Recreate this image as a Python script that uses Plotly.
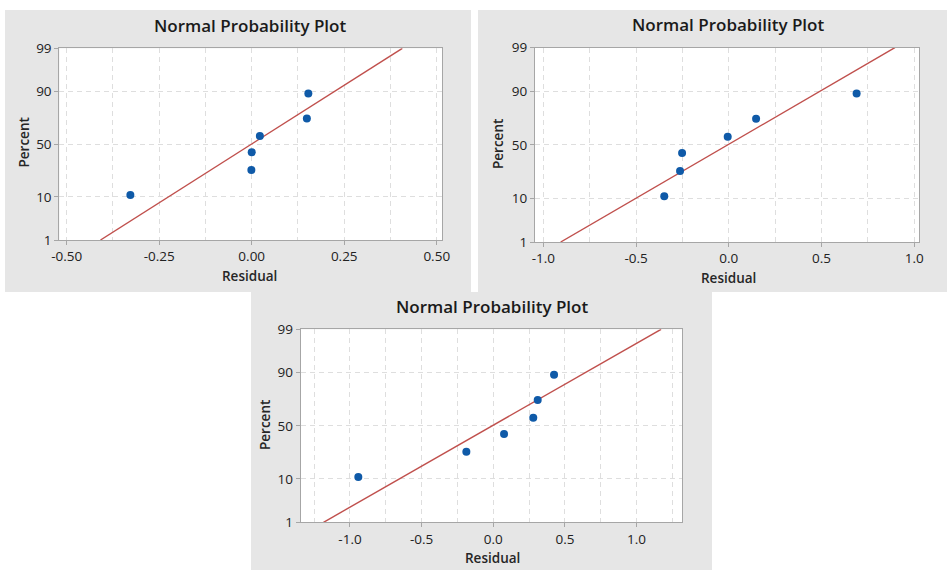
import plotly.graph_objects as go
from statistics import NormalDist, mean, stdev

ND = NormalDist()

# ---- data ----
percent = [10.9, 26.6, 42.2, 57.8, 73.4, 89.1]
resid_1 = [-0.328, -0.001, 0.000, 0.022, 0.149, 0.153]
resid_2 = [-0.348, -0.263, -0.252, -0.006, 0.147, 0.689]
resid_3 = [-0.942, -0.188, 0.075, 0.279, 0.310, 0.424]

y_tickvals = [1, 10, 50, 90, 99]
y_ticktext = ["1", "10", "50", "90", "99"]
x_tick_1 = [-0.50, -0.25, 0.00, 0.25, 0.50]
x_text_1 = ["-0.50", "-0.25", "0.00", "0.25", "0.50"]
x_tick_2 = [-1.0, -0.5, 0.0, 0.5, 1.0]
x_text_2 = ["-1.0", "-0.5", "0.0", "0.5", "1.0"]
x_tick_3 = [-1.0, -0.5, 0.0, 0.5, 1.0]
x_text_3 = ["-1.0", "-0.5", "0.0", "0.5", "1.0"]
fit_percent = [1, 99]

W, H = 947, 570
FONT = "Open Sans"
PANEL = "#e6e6e6"
GRID = "#dedede"
GRIDDASH = "5px,4px"
FRAME = "#a6a6a6"
BLUE = "#0f5aa8"
RED = "#c0504d"
TICKCOL = "#222222"


def z(p):
    return ND.inv_cdf(p / 100.0)


# panel boxes (pixels) and plot areas (pixels)
panels = [
    dict(box=(5, 10, 471, 292), plot=(59.3, 48.3, 442.3, 240.0), xr=(-0.52, 0.515),
         res=resid_1, xt=x_tick_1, xtt=x_text_1, minor=0.125),
    dict(box=(478, 10, 947, 292), plot=(535.0, 47.7, 919.3, 242.0), xr=(-1.045, 1.027),
         res=resid_2, xt=x_tick_2, xtt=x_text_2, minor=0.25),
    dict(box=(251, 292, 712, 570), plot=(300.7, 329.3, 682.3, 522.3), xr=(-1.344, 1.319),
         res=resid_3, xt=x_tick_3, xtt=x_text_3, minor=0.25),
]

fig = go.Figure()
shapes = []
annotations = []

for i, pn in enumerate(panels, start=1):
    xa = "x" if i == 1 else f"x{i}"
    ya = "y" if i == 1 else f"y{i}"
    xk = "xaxis" if i == 1 else f"xaxis{i}"
    yk = "yaxis" if i == 1 else f"yaxis{i}"
    res = sorted(pn["res"])
    m, s = mean(res), stdev(res)
    # fitted line
    fig.add_trace(go.Scatter(
        x=[m + s * z(p) for p in fit_percent], y=[z(p) for p in fit_percent],
        mode="lines", line=dict(color=RED, width=1.4), xaxis=xa, yaxis=ya,
        showlegend=False, hoverinfo="skip"))
    fig.add_trace(go.Scatter(
        x=res, y=[z(p) for p in percent], mode="markers",
        marker=dict(color=BLUE, size=8), xaxis=xa, yaxis=ya, showlegend=False))

    x0, y0, x1, y1 = pn["plot"]
    fig.layout[xk] = dict(
        domain=[x0 / W, x1 / W], anchor=ya, range=list(pn["xr"]),
        tickvals=pn["xt"], ticktext=pn["xtt"],
        showline=True, mirror=True, linecolor=FRAME, linewidth=1,
        ticks="outside", ticklen=4, tickcolor=FRAME,
        showgrid=True, gridcolor=GRID, griddash=GRIDDASH, gridwidth=1,
        minor=dict(dtick=pn["minor"], tick0=0, showgrid=True, gridcolor=GRID,
                   griddash=GRIDDASH, gridwidth=1, ticks=""),
        zeroline=False, tickfont=dict(family=FONT, size=13.5, color=TICKCOL),
        fixedrange=True)
    fig.layout[yk] = dict(
        domain=[1 - y1 / H, 1 - y0 / H], anchor=xa, range=[z(1), z(99)],
        tickvals=[z(p) for p in y_tickvals], ticktext=y_ticktext,
        showline=True, mirror=True, linecolor=FRAME, linewidth=1,
        ticks="outside", ticklen=4, tickcolor=FRAME,
        showgrid=True, gridcolor=GRID, griddash=GRIDDASH, gridwidth=1,
        zeroline=False, tickfont=dict(family=FONT, size=13.5, color=TICKCOL),
        fixedrange=True)

    bx0, by0, bx1, by1 = pn["box"]
    shapes.append(dict(type="rect", xref="paper", yref="paper",
                       x0=bx0 / W, x1=bx1 / W, y0=1 - by1 / H, y1=1 - by0 / H,
                       fillcolor=PANEL, line=dict(width=0), layer="below"))
    shapes.append(dict(type="rect", xref="paper", yref="paper",
                       x0=x0 / W, x1=x1 / W, y0=1 - y1 / H, y1=1 - y0 / H,
                       fillcolor="white", line=dict(width=0), layer="below"))

title_pos = [(250, 25), (728, 24), (492, 306.5)]
xt_pos = [(250, 276), (728, 278), (492, 557.5)]
yt_pos = [(23.5, 143), (498, 144), (265, 425)]
for (tx, ty), (ax_, ay_), (px, py) in zip(title_pos, xt_pos, yt_pos):
    annotations.append(dict(text="Normal Probability Plot", x=tx / W, y=1 - ty / H,
                            xref="paper", yref="paper", showarrow=False,
                            xanchor="center", yanchor="middle",
                            font=dict(family=FONT, size=17, color="#1a1a1a", weight=600)))
    annotations.append(dict(text="Residual", x=ax_ / W, y=1 - ay_ / H,
                            xref="paper", yref="paper", showarrow=False,
                            xanchor="center", yanchor="middle",
                            font=dict(family=FONT, size=13.5, color="#262626", weight=600)))
    annotations.append(dict(text="Percent", x=px / W, y=1 - py / H, textangle=-90,
                            xref="paper", yref="paper", showarrow=False,
                            xanchor="center", yanchor="middle",
                            font=dict(family=FONT, size=13.5, color="#262626", weight=600)))

fig.update_layout(
    width=W, height=H, margin=dict(l=0, r=0, t=0, b=0, autoexpand=False),
    paper_bgcolor="white", plot_bgcolor="rgba(0,0,0,0)",
    shapes=shapes, annotations=annotations, showlegend=False,
    font=dict(family=FONT),
)

fig.write_html(
    "out.html",
    config={"displayModeBar": False},
    post_script="document.documentElement.style.margin='0';"
                "document.body.style.margin='0';"
                "document.body.style.overflow='hidden';",
)
